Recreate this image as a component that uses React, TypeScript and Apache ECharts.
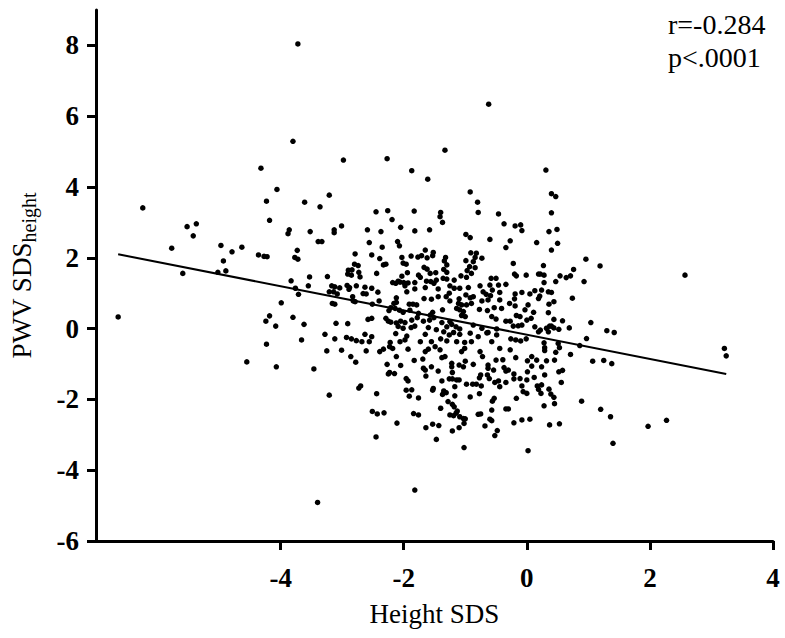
import React, { useEffect, useRef } from "react";
import * as echarts from "echarts";

// Tick labels
const xTicks = [-4, -2, 0, 2, 4];
const yTicks = [-6, -4, -2, 0, 2, 4, 6, 8];

// Regression line endpoints (Height SDS, PWV SDS)
const fitX = [-6.64, 3.24];
const fitY = [2.1, -1.28];

const statR = "r=-0.284";
const statP = "p<.0001";

// Scatter points [Height SDS, PWV SDS_height], grouped by region of the plot
const leftPoints = [
  [-3.72, 8.04], [-3.8, 5.29], [-4.32, 4.53], [-4.06, 3.93], [-4.23, 3.6], [-6.24, 3.41],
  [-5.52, 2.88], [-5.37, 2.96], [-5.42, 2.62], [-4.18, 3.06], [-3.86, 2.79], [-3.88, 2.68],
  [-5.77, 2.27], [-4.97, 2.35], [-4.79, 2.17], [-4.63, 2.3], [-4.93, 1.91], [-5.02, 1.59],
  [-4.89, 1.63], [-5.59, 1.56], [-4.36, 2.08], [-4.27, 2.04], [-4.22, 2.03], [-3.73, 2.21],
  [-3.77, 2.01], [-3.72, 1.96], [-3.83, 1.35], [-3.76, 1.14], [-3.71, 0.97], [-3.99, 0.73],
  [-6.64, 0.33], [-4.18, 0.36], [-4.24, 0.21], [-4.08, 0.07], [-3.8, 0.32], [-4.23, -0.44],
  [-4.55, -0.94], [-4.07, -1.08],
];

const topPoints = [
  [-0.62, 6.34], [-2.98, 4.76], [-3.21, 3.77], [-2.27, 4.8], [-1.87, 4.46], [-1.61, 4.22],
  [-1.33, 5.04], [-0.92, 3.86], [0.31, 4.48], [0.4, 3.81], [0.47, 3.73],
];

const rightPoints = [
  [2.57, 1.51], [3.21, -0.56], [3.24, -0.77], [2.27, -2.59], [1.97, -2.76],
];

const upperLeftPoints = [
  [-3.61, 3.57], [-3.36, 3.44], [-2.45, 3.3], [-2.26, 3.33], [-1.83, 3.32], [-2.19, 3.08],
  [-3.52, 2.74], [-3.13, 2.79], [-3.13, 2.71], [-3.01, 2.9], [-2.59, 2.79], [-2.37, 2.74],
  [-2.05, 2.86], [-1.82, 2.76], [-3.39, 2.46], [-3.33, 2.46], [-2.56, 2.43], [-2.1, 2.46],
  [-2.07, 2.34], [-2.35, 2.3], [-2.79, 2.11], [-2.52, 2.08], [-2.39, 1.98], [-2.03, 2.01],
  [-1.88, 2.05], [-1.77, 2.02], [-2.8, 1.82], [-2.74, 1.78], [-2.9, 1.65], [-2.84, 1.66],
  [-2.33, 1.8], [-2.29, 1.82], [-2.01, 1.85], [-1.96, 1.82], [-2.91, 1.54], [-2.85, 1.51],
  [-2.73, 1.59], [-2.44, 1.56], [-1.94, 1.58], [-1.76, 1.51], [-3.53, 1.46], [-3.24, 1.47],
  [-2.71, 1.46], [-2.03, 1.48], [-2.06, 1.31], [-2.18, 1.3], [-2.13, 1.28], [-2.09, 1.34],
  [-2.0, 1.3], [-1.93, 1.29], [-1.82, 1.3], [-3.55, 1.21], [-3.17, 1.21], [-3.12, 1.18],
  [-3.04, 1.15], [-2.92, 1.22], [-2.88, 1.16], [-2.77, 1.21], [-2.63, 1.17], [-2.52, 1.14],
  [-1.98, 1.21], [-1.82, 1.12], [-3.21, 1.04], [-3.14, 1.04], [-3.08, 0.98], [-2.89, 1.11],
  [-2.66, 0.99], [-2.61, 0.98], [-2.42, 1.03], [-1.95, 1.04], [-2.12, 0.87], [-2.83, 0.9],
  [-2.82, 0.78], [-2.79, 0.76], [-2.4, 0.78], [-2.51, 0.69], [-3.16, 0.71], [-3.12, 0.69],
  [-2.16, 0.71], [-2.12, 0.74], [-1.91, 0.69], [-1.85, 0.69], [-1.79, 0.67], [-2.21, 0.59],
  [-2.14, 0.57], [-2.07, 0.52], [-2.24, 0.51], [-2.01, 0.46], [-1.9, 0.52], [-1.76, 0.43],
  [-2.58, 0.26], [-2.52, 0.29], [-2.29, 0.29], [-2.25, 0.21], [-2.21, 0.18], [-2.12, 0.16],
  [-2.05, 0.21], [-1.98, 0.17], [-1.87, 0.24], [-1.78, 0.31], [-3.62, 0.12], [-3.1, 0.15],
  [-2.91, 0.14], [-2.09, 0.06], [-2.01, 0.01], [-1.88, 0.03], [-1.82, 0.07], [-3.28, -0.16],
  [-2.63, -0.16], [-2.52, -0.23], [-2.13, -0.14], [-1.95, -0.21], [-3.12, -0.29], [-2.93, -0.25],
  [-2.85, -0.29], [-2.77, -0.34], [-2.68, -0.37], [-2.56, -0.37], [-2.22, -0.39], [-2.06, -0.37],
  [-1.98, -0.32], [-3.66, -0.32], [-3.25, -0.63], [-3.01, -0.61], [-2.61, -0.63], [-2.39, -0.65],
  [-2.33, -0.58], [-2.23, -0.51], [-2.18, -0.56], [-1.93, -0.58],
];

const upperMidPoints = [
  [-0.8, 3.57], [-0.79, 3.28], [-1.4, 3.28], [-1.41, 3.16], [-1.37, 3.0], [-0.46, 3.24],
  [-1.58, 2.79], [-0.37, 2.96], [-0.19, 2.9], [-0.1, 2.93], [-0.08, 2.77], [-0.99, 2.66],
  [-0.92, 2.57], [-0.6, 2.52], [-0.27, 2.48], [-0.34, 2.29], [0.16, 2.43], [-1.65, 2.22],
  [-1.52, 2.15], [-1.71, 2.06], [-1.53, 2.06], [-1.62, 2.0], [-1.32, 2.01], [-0.91, 2.14],
  [-0.82, 2.13], [-0.84, 2.01], [-0.73, 1.99], [-1.34, 1.91], [-1.3, 1.8], [-0.99, 1.92],
  [-0.87, 1.89], [-0.22, 1.84], [-1.67, 1.73], [-1.62, 1.68], [-1.35, 1.67], [-0.93, 1.75],
  [-0.84, 1.72], [-1.57, 1.56], [-1.48, 1.58], [-1.3, 1.59], [-0.97, 1.64], [-0.9, 1.56],
  [-0.2, 1.54], [-0.17, 1.49], [-0.01, 1.51], [0.19, 1.54], [-1.73, 1.45], [-1.63, 1.34],
  [-1.56, 1.33], [-1.47, 1.37], [-1.36, 1.42], [-1.3, 1.4], [-1.18, 1.37], [-1.07, 1.49],
  [-0.98, 1.45], [-0.58, 1.42], [-0.5, 1.42], [-0.76, 1.21], [-0.6, 1.23], [-0.46, 1.23],
  [-0.34, 1.25], [-1.65, 1.16], [-1.51, 1.28], [-1.44, 1.12], [-1.25, 1.21], [-1.18, 1.14],
  [-1.09, 1.14], [-0.95, 1.16], [-1.26, 1.0], [-0.71, 1.04], [-0.66, 0.97], [-0.56, 1.09],
  [-0.44, 1.02], [-0.19, 0.98], [-0.08, 1.02], [0.05, 0.98], [0.13, 1.07], [-1.67, 0.85],
  [-1.55, 0.83], [-1.44, 0.9], [-1.31, 0.9], [-1.25, 0.78], [-1.1, 0.84], [-0.99, 0.95],
  [-0.92, 0.87], [-0.87, 0.9], [-0.73, 0.78], [-0.63, 0.81], [-0.59, 0.93], [-0.44, 0.81],
  [-0.28, 0.71], [-0.2, 0.84], [0.19, 0.85], [-1.11, 0.71], [-1.06, 0.67], [-0.98, 0.67],
  [-0.9, 0.71], [-1.14, 0.57], [-1.09, 0.53], [-0.77, 0.54], [-0.64, 0.51], [-0.53, 0.59],
  [-0.41, 0.57], [-0.19, 0.64], [0.02, 0.67], [-0.03, 0.53], [-1.53, 0.46], [-1.37, 0.53],
  [-1.03, 0.48], [-1.57, 0.38], [-1.51, 0.31], [-1.06, 0.37], [-1.0, 0.34], [-0.57, 0.34],
  [-0.5, 0.27], [-0.34, 0.21], [-0.27, 0.21], [-0.17, 0.37], [-0.11, 0.34], [0.0, 0.24],
  [0.07, 0.29], [0.11, 0.46], [-1.58, 0.24], [-1.38, 0.17], [-1.25, 0.2], [-1.68, 0.21],
  [-1.6, 0.03], [-1.47, -0.03], [-1.3, 0.05], [-1.22, 0.12], [-1.15, 0.05], [-1.09, -0.01],
  [-0.87, 0.1], [-0.73, 0.01], [-0.63, -0.11], [-0.49, -0.01], [-0.22, 0.07], [-0.14, 0.08],
  [-0.08, 0.1], [0.13, 0.05], [0.19, -0.09], [-1.65, -0.16], [-1.35, -0.09], [-1.26, -0.18],
  [-1.19, -0.11], [-1.09, -0.16], [-0.92, -0.13], [-0.79, -0.23], [-0.65, -0.12], [-0.49, -0.18],
  [-0.26, -0.29], [-0.18, -0.32], [-0.1, -0.35], [-0.01, -0.29], [-1.73, -0.37], [-1.55, -0.37],
  [-1.4, -0.29], [-1.3, -0.35], [-1.14, -0.37], [-1.01, -0.39], [-0.9, -0.37], [-0.57, -0.37],
  [-1.49, -0.51], [-1.6, -0.58], [-1.65, -0.65], [-1.41, -0.6], [-1.01, -0.56], [-0.76, -0.65],
  [-1.06, -0.65], [-0.44, -0.56], [-0.27, -0.6],
];

const upperRightPoints = [
  [0.4, 3.27], [0.36, 2.74], [0.49, 2.8], [0.5, 2.41], [0.4, 2.22], [0.96, 1.96],
  [1.19, 1.77], [0.27, 1.78], [0.76, 1.67], [0.22, 1.54], [0.28, 1.51], [0.54, 1.49],
  [0.64, 1.44], [0.71, 1.49], [0.47, 1.33], [0.28, 1.3], [0.93, 1.33], [0.24, 1.09],
  [0.35, 1.04], [0.4, 1.02], [0.21, 0.92], [0.74, 0.86], [0.44, 0.76], [0.36, 0.69],
  [0.35, 0.45], [0.44, 0.26], [0.58, 0.22], [1.04, 0.17], [0.37, 0.07], [0.4, 0.07],
  [0.44, 0.02], [0.32, 0.01], [0.52, -0.02], [0.69, 0.02], [0.22, -0.04], [0.35, -0.09],
  [1.3, -0.06], [1.42, -0.11], [0.97, -0.28], [0.28, -0.4], [0.51, -0.42], [0.29, -0.54],
  [0.53, -0.54], [0.86, -0.48], [0.29, -0.62], [0.47, -0.67], [0.71, -0.73],
];

const lowerLeftPoints = [
  [-2.86, -0.79], [-2.12, -0.79], [-2.78, -0.95], [-2.27, -1.01], [-2.05, -1.04], [-1.83, -0.9],
  [-3.46, -1.14], [-2.23, -1.24], [-2.15, -1.27], [-2.25, -1.28], [-1.96, -1.41], [-1.93, -1.48],
  [-2.7, -1.62], [-2.73, -1.68], [-1.96, -1.74], [-1.87, -1.73], [-3.21, -1.88], [-2.44, -1.84],
  [-1.91, -1.91], [-1.76, -1.96], [-2.51, -2.34], [-2.43, -2.41], [-2.32, -2.38], [-1.84, -2.4],
  [-1.76, -2.44], [-2.11, -2.67], [-2.45, -3.06], [-1.82, -4.56], [-3.4, -4.91],
];

const lowerMidPoints = [
  [-1.69, -0.86], [-1.38, -0.82], [-1.33, -0.79], [-1.22, -0.98], [-1.22, -1.08], [-1.1, -1.03],
  [-1.03, -1.08], [-1.0, -0.92], [-0.87, -1.01], [-0.72, -0.79], [-0.63, -1.03], [-0.63, -1.12],
  [-0.54, -1.17], [-0.5, -0.89], [-0.39, -0.88], [-0.37, -1.1], [-0.34, -1.2], [-0.18, -0.82],
  [0.01, -0.91], [0.08, -0.79], [0.16, -0.89], [0.08, -1.06], [-1.68, -1.12], [-1.65, -1.17],
  [-1.55, -1.08], [-1.44, -1.2], [-1.64, -1.34], [-1.21, -1.24], [-0.75, -1.31], [-0.77, -1.39],
  [-0.64, -1.31], [-0.3, -1.17], [-0.21, -1.28], [-0.11, -1.41], [0.0, -1.45], [0.01, -1.22],
  [0.12, -1.38], [-1.26, -1.42], [-1.21, -1.42], [-1.14, -1.45], [-1.1, -1.45], [-0.98, -1.57],
  [-0.88, -1.57], [-0.82, -1.57], [-0.74, -1.62], [-0.61, -1.41], [-0.52, -1.52], [-0.46, -1.48],
  [-0.44, -1.64], [-0.34, -1.52], [-0.21, -1.42], [-0.08, -1.62], [0.17, -1.62], [0.19, -1.72],
  [-1.38, -1.48], [-1.52, -1.69], [-1.53, -1.74], [-1.17, -1.64], [-1.35, -1.76], [-1.37, -1.86],
  [-1.31, -1.81], [-1.17, -1.9], [-0.92, -1.93], [-0.77, -1.84], [-0.53, -1.97], [-0.56, -2.05],
  [-0.17, -1.97], [-0.06, -1.78], [0.0, -1.83], [-1.28, -2.06], [-1.21, -2.14], [-1.18, -2.21],
  [-1.4, -2.25], [-0.57, -2.3], [-0.34, -2.27], [-0.3, -2.27], [-1.13, -2.33], [-1.15, -2.39],
  [-1.25, -2.44], [-1.19, -2.46], [-0.75, -2.41], [-0.79, -2.42], [-1.09, -2.49], [-1.03, -2.54],
  [-1.0, -2.55], [-0.6, -2.56], [-0.57, -2.6], [0.05, -2.56], [-0.08, -2.58], [-0.21, -2.66],
  [-1.53, -2.7], [-1.43, -2.74], [-1.64, -2.8], [-1.1, -2.8], [-1.02, -2.68], [-0.68, -2.75],
  [-0.48, -2.88], [-1.21, -2.89], [-0.52, -3.02], [-1.47, -3.13], [-1.02, -3.36], [0.02, -3.45],
];

const lowerRightPoints = [
  [0.45, -0.89], [0.32, -0.91], [1.07, -0.92], [1.25, -0.9], [1.38, -0.99], [0.24, -1.08],
  [0.52, -1.22], [0.58, -1.18], [0.29, -1.31], [0.56, -1.52], [0.24, -1.59], [0.36, -1.71],
  [0.23, -1.83], [0.39, -1.85], [0.44, -1.94], [0.28, -2.18], [0.45, -2.12], [0.89, -2.05],
  [1.2, -2.28], [1.36, -2.49], [0.37, -2.72], [0.53, -2.69], [1.4, -3.24],
];

const allPoints = [
  ...leftPoints, ...topPoints, ...rightPoints, ...upperLeftPoints, ...upperMidPoints,
  ...upperRightPoints, ...lowerLeftPoints, ...lowerMidPoints, ...lowerRightPoints,
];

const FONT = "'Liberation Serif', 'Times New Roman', serif";

export default function App() {
  const ref = useRef<HTMLDivElement>(null);
  useEffect(() => {
    if (!ref.current) return;
    const chart = echarts.init(ref.current, null, { renderer: "svg" });
    const axisLine = { show: true, onZero: false, lineStyle: { color: "#000", width: 3 } };
    const tickBase = { show: true, inside: false, length: 9, lineStyle: { color: "#000", width: 3 } };
    chart.setOption({
      animation: false,
      backgroundColor: "#fff",
      grid: { left: 96, right: 12, top: 10, bottom: 97, containLabel: false },
      xAxis: {
        type: "value",
        min: -7,
        max: 4,
        axisLine,
        splitLine: { show: false },
        axisTick: { ...tickBase, customValues: xTicks },
        axisLabel: {
          customValues: xTicks,
          margin: 23,
          fontFamily: FONT,
          fontWeight: "bold",
          fontSize: 27,
          color: "#000",
        },
        name: "Height SDS",
        nameLocation: "middle",
        nameGap: 59,
        nameTextStyle: { fontFamily: FONT, fontSize: 27, color: "#000" },
      },
      yAxis: {
        type: "value",
        min: -6,
        max: 9,
        axisLine,
        splitLine: { show: false },
        axisTick: { ...tickBase, customValues: yTicks },
        axisLabel: {
          customValues: yTicks,
          margin: 17,
          fontFamily: FONT,
          fontWeight: "bold",
          fontSize: 27,
          color: "#000",
        },
        name: "{m|PWV SDS}{s|height}",
        nameLocation: "middle",
        nameRotate: 90,
        nameGap: 57,
        nameTextStyle: {
          color: "#000",
          rich: {
            m: { fontFamily: FONT, fontSize: 27, color: "#000" },
            s: { fontFamily: FONT, fontSize: 20, color: "#000", padding: [14, 0, 0, 0] },
          },
        },
      },
      series: [
        {
          type: "scatter",
          data: allPoints,
          symbol: "circle",
          symbolSize: 5.5,
          itemStyle: { color: "#000", opacity: 1 },
          silent: true,
        },
        {
          type: "line",
          data: [
            [fitX[0], fitY[0]],
            [fitX[1], fitY[1]],
          ],
          symbol: "none",
          lineStyle: { color: "#000", width: 2 },
          silent: true,
        },
      ],
      graphic: [
        {
          type: "text",
          left: 668,
          top: 8,
          style: {
            text: statR + "\n" + statP,
            fontFamily: FONT,
            fontSize: 28,
            lineHeight: 33,
            fill: "#000",
          },
        },
      ],
    });
    return () => chart.dispose();
  }, []);
  return (
    <div
      ref={ref}
      style={{ position: "absolute", left: 0, top: 0, width: 785, height: 638 }}
    />
  );
}
